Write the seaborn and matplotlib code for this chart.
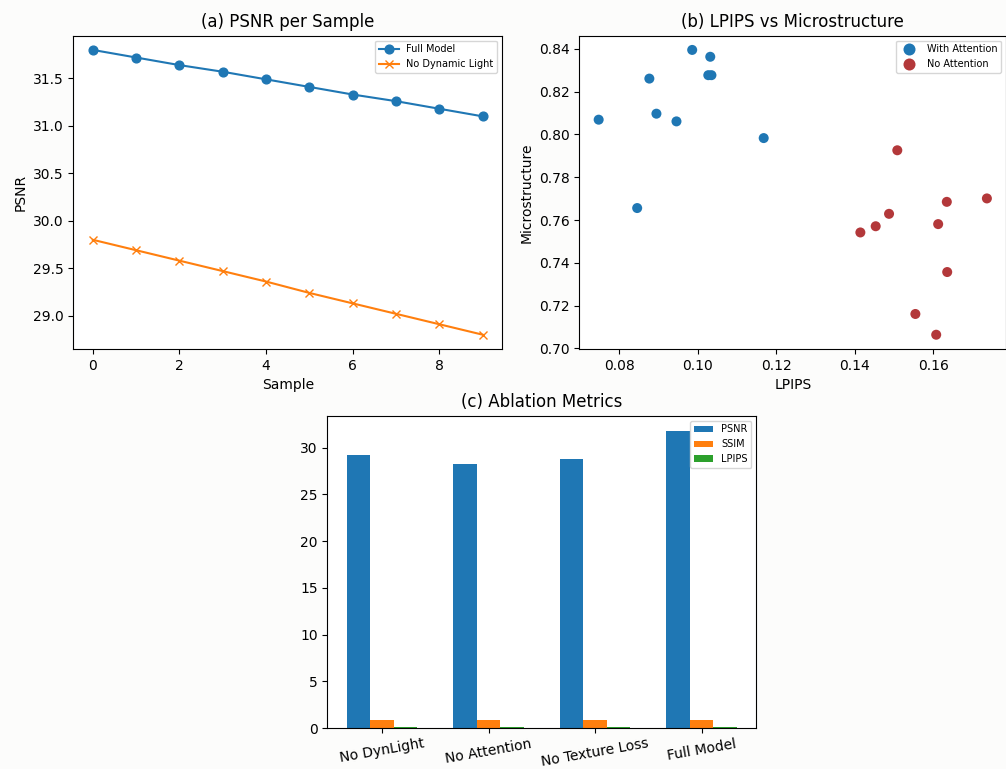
import matplotlib
matplotlib.use("Agg")
import matplotlib.pyplot as plt
import seaborn as sns
import pandas as pd
import numpy as np

# ---- data ----
samples = [0, 1, 2, 3, 4, 5, 6, 7, 8, 9]
psnr_full = [31.80, 31.72, 31.64, 31.57, 31.49, 31.41, 31.33, 31.26, 31.18, 31.10]
psnr_nodyn = [29.80, 29.69, 29.58, 29.47, 29.36, 29.24, 29.13, 29.02, 28.91, 28.80]

lpips_att = [0.0748, 0.0877, 0.0986, 0.1032, 0.1027, 0.1035, 0.0895, 0.0946, 0.1168, 0.0846]
micro_att = [0.8069, 0.8261, 0.8395, 0.8363, 0.8277, 0.8277, 0.8097, 0.8061, 0.7983, 0.7656]
lpips_noatt = [0.1508, 0.1736, 0.1634, 0.1487, 0.1453, 0.1414, 0.1612, 0.1635, 0.1554, 0.1607]
micro_noatt = [0.7926, 0.7701, 0.7685, 0.7629, 0.7571, 0.7542, 0.7581, 0.7357, 0.7161, 0.7064]

variants = ["No DynLight", "No Attention", "No Texture Loss", "Full Model"]
bar_psnr = [29.17, 28.28, 28.78, 31.80]
bar_ssim = [0.91, 0.89, 0.90, 0.93]
bar_lpips = [0.12, 0.15, 0.13, 0.08]

blue = "#1f77b4"
orange = "#ff7f0e"
green = "#2ca02c"
red = "#b3383a"

fig = plt.figure(figsize=(10.06, 7.69), dpi=100, facecolor="#fcfcfb")
ax1 = fig.add_axes([0.0729, 0.5462, 0.4264, 0.4074])
ax2 = fig.add_axes([0.5758, 0.5462, 0.4245, 0.4074])
ax3 = fig.add_axes([0.3254, 0.0530, 0.4264, 0.4064])

# (a)
sns.lineplot(x=samples, y=psnr_full, ax=ax1, color=blue, marker="o", markersize=6.3,
             markeredgecolor=blue, markeredgewidth=1, label="Full Model")
sns.lineplot(x=samples, y=psnr_nodyn, ax=ax1, color=orange, marker="x", markersize=6.3,
             markeredgecolor=orange, markeredgewidth=1, label="No Dynamic Light")
ax1.set_title("(a) PSNR per Sample", fontsize=12)
ax1.set_xlabel("Sample")
ax1.set_ylabel("PSNR")
ax1.legend(loc="upper right", fontsize=7)

# (b)
df_sc = pd.DataFrame({
    "LPIPS": lpips_att + lpips_noatt,
    "Microstructure": micro_att + micro_noatt,
    "Group": ["With Attention"] * len(lpips_att) + ["No Attention"] * len(lpips_noatt),
})
sns.scatterplot(data=df_sc, x="LPIPS", y="Microstructure", hue="Group", ax=ax2,
                palette={"With Attention": blue, "No Attention": red},
                s=52, edgecolor="none")
ax2.set_title("(b) LPIPS vs Microstructure", fontsize=12)
ax2.set_xticks([0.08, 0.10, 0.12, 0.14, 0.16])
ax2.legend(loc="upper right", fontsize=7, markerscale=1.2)

# (c)
df_bar = pd.DataFrame({
    "Variant": variants * 3,
    "Value": bar_psnr + bar_ssim + bar_lpips,
    "Metric": ["PSNR"] * 4 + ["SSIM"] * 4 + ["LPIPS"] * 4,
})
sns.barplot(data=df_bar, x="Variant", y="Value", hue="Metric", ax=ax3,
            palette=[blue, orange, green], saturation=1, width=0.66,
            errorbar=None, linewidth=0)
ax3.set_xlim(-0.513, 3.513)
ax3.set_ylim(0, 33.4)
ax3.set_title("(c) Ablation Metrics", fontsize=12)
ax3.set_xlabel("")
ax3.set_ylabel("")
ax3.tick_params(axis="x", rotation=10, pad=2.5)
ax3.legend(loc="upper right", fontsize=7)

fig.savefig("out.png", dpi=100, facecolor=fig.get_facecolor())
